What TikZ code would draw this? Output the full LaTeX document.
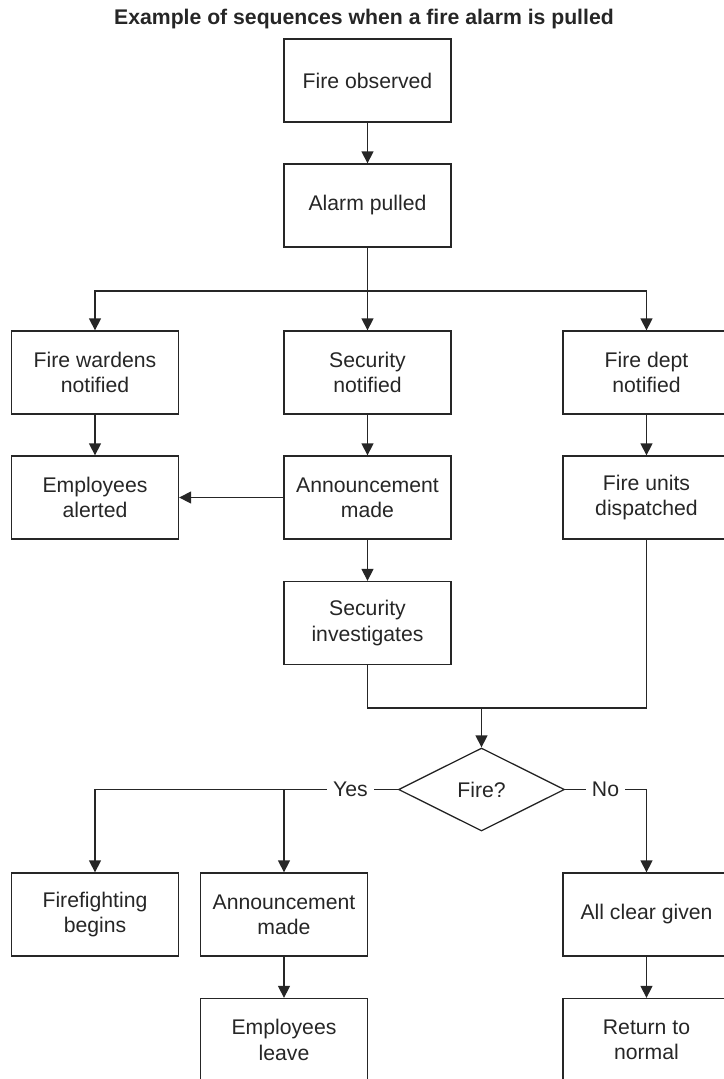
\documentclass[tikz,border=0pt]{standalone}
\usepackage{fontspec}
\setmainfont{Liberation Sans}
\usetikzlibrary{arrows.meta,shapes.geometric}
\definecolor{ink}{HTML}{262626}
\begin{document}
\begin{tikzpicture}[x=1pt,y=-1pt,
  every node/.style={text=ink},
  stepbox/.style={draw=ink, line width=1.3pt, minimum width=167pt, minimum height=83pt,
    align=center, inner sep=2pt, font=\fontsize{21.2}{25.3}\selectfont},
  decision/.style={draw=ink, line width=1.3pt, diamond, aspect=2, minimum width=166pt,
    minimum height=83pt, inner sep=0pt, font=\fontsize{21.2}{25.3}\selectfont},
  tag/.style={fill=white, inner sep=0pt, font=\fontsize{21.2}{25.3}\selectfont},
  link/.style={draw=ink, line width=1.3pt},
  arr/.style={link, -{Triangle[length=12pt,width=12pt]}}]
\useasboundingbox (0,0) rectangle (723,1079);

% title
\node[font=\bfseries\fontsize{21.2}{25}\selectfont, anchor=base] (title) at (364,24.3)
  {Example of sequences when a fire alarm is pulled};

% top of the sequence
\node[stepbox] (fo) at (367.5,80.5) {Fire observed};
\node[stepbox] (ap) at (367.5,205.5) {Alarm pulled};

% three notification branches
\node[stepbox] (fw) at (95,372.5) {Fire wardens\\notified};
\node[stepbox] (sn) at (367.5,372.5) {Security\\notified};
\node[stepbox] (fd) at (646.5,372.5) {Fire dept\\notified};

\node[stepbox] (ea) at (95,497.5) {Employees\\alerted};
\node[stepbox] (am1) at (367.5,497.5) {Announcement\\made};
\node[stepbox] (fu) at (646.5,497.5) {Fire units\\dispatched};

\node[stepbox] (si) at (367.5,623) {Security\\investigates};

% decision
\node[decision] (dia) at (481.5,789.5) {Fire?};
\node[tag, minimum width=47pt, minimum height=20pt] (yes) at (350.5,789.5) {Yes};
\node[tag, minimum width=39pt, minimum height=20pt] (no) at (605.5,789.5) {No};

% outcomes
\node[stepbox] (ffb) at (95,914.5) {Firefighting\\begins};
\node[stepbox] (am2) at (284,914.5) {Announcement\\made};
\node[stepbox] (acg) at (646.5,914.5) {All clear given};

\node[stepbox] (el) at (284,1040) {Employees\\leave};
\node[stepbox] (rtn) at (646.5,1040) {Return to\\normal};

% junction points
\coordinate (split) at (367.5,291);
\coordinate (merge) at (481.5,708);

% connectors
\draw[arr] (fo) -- (ap);
\draw[arr] (ap) -- (sn);
\draw[arr] (split) -| (fw.north);
\draw[arr] (split) -| (fd.north);

\draw[arr] (fw) -- (ea);
\draw[arr] (sn) -- (am1);
\draw[arr] (fd) -- (fu);
\draw[arr] (am1) -- (ea);
\draw[arr] (am1) -- (si);

\draw[link] (si.south) |- (merge);
\draw[link] (fu.south) |- (merge);
\draw[arr] (merge) -- (dia.north);

\draw[link] (dia.west) -- (yes.east);
\draw[arr] (yes.west) -| (ffb.north);
\draw[arr] (am2.north |- yes.west) -- (am2.north);
\draw[link] (dia.east) -- (no.west);
\draw[arr] (no.east) -| (acg.north);

\draw[arr] (am2) -- (el);
\draw[arr] (acg) -- (rtn);
\end{tikzpicture}
\end{document}
